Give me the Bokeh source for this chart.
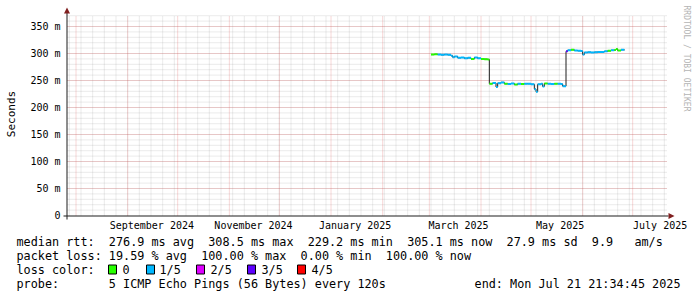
from datetime import datetime, timedelta
import math
import pandas as pd
from bokeh.plotting import figure
from bokeh.models import (Range1d, FixedTicker, DatetimeTickFormatter, Label,
                          PolyAnnotation, ColumnDataSource)
from bokeh.embed import file_html
from bokeh.resources import INLINE

# ---------------- data ----------------
dates = ["2025-03-02", "2025-03-04", "2025-03-06", "2025-03-08", "2025-03-10",
         "2025-03-12", "2025-03-14", "2025-03-15", "2025-03-16", "2025-03-18",
         "2025-03-20", "2025-03-22", "2025-03-24", "2025-03-26", "2025-03-28",
         "2025-03-30", "2025-04-01", "2025-04-03", "2025-04-05", "2025-04-06",
         "2025-04-08", "2025-04-10", "2025-04-11", "2025-04-13", "2025-04-15",
         "2025-04-17", "2025-04-19", "2025-04-21", "2025-04-23", "2025-04-25",
         "2025-04-27", "2025-04-29", "2025-05-01", "2025-05-03", "2025-05-04",
         "2025-05-05", "2025-05-07", "2025-05-08", "2025-05-09", "2025-05-11",
         "2025-05-13", "2025-05-15", "2025-05-17", "2025-05-19", "2025-05-20",
         "2025-05-22", "2025-05-23", "2025-05-25", "2025-05-27", "2025-05-29",
         "2025-05-31", "2025-06-01", "2025-06-02", "2025-06-04", "2025-06-06",
         "2025-06-08", "2025-06-10", "2025-06-12", "2025-06-14", "2025-06-16",
         "2025-06-18", "2025-06-20", "2025-06-21", "2025-06-22", "2025-06-24",
         "2025-06-26"]
median_ms = [298.0, 298.5, 298.0, 297.5, 298.0,
             297.5, 296.0, 293.0, 294.5, 292.0,
             292.5, 291.0, 292.0, 290.0, 292.5,
             291.0, 290.0, 289.5, 289.0, 244.0,
             245.5, 238.0, 245.0, 246.5, 244.0,
             243.5, 244.5, 242.5, 244.0, 243.5,
             244.0, 244.0, 243.0, 234.0, 229.2,
             243.0, 244.0, 239.0, 244.5, 244.0,
             243.5, 244.0, 244.0, 243.5, 239.5,
             304.0, 306.0, 307.0, 305.5, 305.0,
             304.5, 298.0, 302.0, 302.5, 302.0,
             302.5, 303.0, 303.0, 304.0, 305.0,
             306.0, 306.5, 308.5, 305.5, 307.0,
             306.0]
loss_idx = [0, 0, 1, 1, 1,
            1, 1, 1, 1, 1,
            1, 1, 1, 0, 1,
            1, 0, 0, 0, 0,
            1, 1, 1, 1, 0,
            1, 1, 0, 1, 0,
            1, 1, 1, 1, 1,
            1, 1, 1, 0, 1,
            1, 0, 1, 1, 1,
            3, 1, 0, 1, 1,
            1, 1, 1, 1, 1,
            1, 1, 1, 1, 0,
            1, 0, 0, 0, 1,
            1]

loss_labels = ["0", "1/5", "2/5", "3/5", "4/5"]
loss_colors = ["#26ff00", "#00b8ff", "#dd00ff", "#5e00ff", "#ff0000"]

y_ticks = [0, 50, 100, 150, 200, 250, 300, 350]
y_tick_labels = ["0", "50 m", "100 m", "150 m", "200 m", "250 m", "300 m", "350 m"]
y_minor = list(range(10, 371, 10))
x_label_dates = ["2024-09-15", "2024-11-15", "2025-01-15", "2025-03-18",
                 "2025-05-18", "2025-07-17"]

row_rtt = "median rtt:  276.9 ms avg  308.5 ms max  229.2 ms min  305.1 ms now  27.9 ms sd  9.9   am/s"
row_loss = "packet loss: 19.59 % avg  100.00 % max  0.00 % min  100.00 % now"
row_color = "loss color:"
row_probe = "probe:       5 ICMP Echo Pings (56 Bytes) every 120s"
row_end = "end: Mon Jul 21 21:34:45 2025"

# ---------------- geometry ----------------
W, H = 697, 297
FL, FR, FT, FB = 67, 667, 15, 215          # plot area in canvas px
t_start = datetime(2024, 7, 26, 21, 34, 45)
t_end = datetime(2025, 7, 21, 21, 34, 45)
Y_TOP = 370.37
SPP = (t_end - t_start).total_seconds() / (FR - FL)   # seconds per px
YPP = Y_TOP / (FB - FT)                                # ms per px
EPOCH = datetime(1970, 1, 1)


def ms(dt):
    return (dt - EPOCH).total_seconds() * 1000.0


MONO = "DejaVu Sans Mono"

x_lo = t_start - timedelta(seconds=FL * SPP)
x_hi = t_end + timedelta(seconds=(W - FR) * SPP)
y_lo = -(H - FB) * YPP
y_hi = Y_TOP + FT * YPP

p = figure(width=W, height=H, x_axis_type="datetime",
           x_range=Range1d(ms(x_lo), ms(x_hi)), y_range=Range1d(y_lo, y_hi),
           min_border=0, output_backend="svg", toolbar_location=None, title=None)
p.outline_line_color = None
p.background_fill_color = "white"
p.border_fill_color = "white"
p.xgrid.visible = False
p.ygrid.visible = False

# ---------------- grid (drawn inside the plot area only) ----------------
months = [ms(d) for d in pd.date_range("2024-08-01", "2025-07-01", freq="MS").to_pydatetime()]
weeks = [ms(d) for d in pd.date_range("2024-07-28", "2025-07-20", freq="W-SUN").to_pydatetime()]
minor_col = (150, 150, 150)
major_col = (222, 79, 79)
MINOR_A, MAJOR_A = 0.38, 0.45
p.segment(x0=weeks, y0=[0] * len(weeks), x1=weeks, y1=[Y_TOP] * len(weeks),
          line_color=minor_col, line_alpha=MINOR_A, line_width=1, line_dash="1 1")
p.segment(x0=[ms(t_start)] * len(y_minor), y0=y_minor, x1=[ms(t_end)] * len(y_minor),
          y1=y_minor, line_color=minor_col, line_alpha=MINOR_A, line_width=1, line_dash="1 1")
p.segment(x0=months, y0=[0] * len(months), x1=months, y1=[Y_TOP] * len(months),
          line_color=major_col, line_alpha=MAJOR_A, line_width=1, line_dash="1 1")
p.segment(x0=[ms(t_start)] * 7, y0=y_ticks[1:], x1=[ms(t_end)] * 7, y1=y_ticks[1:],
          line_color=major_col, line_alpha=MAJOR_A, line_width=1, line_dash="1 1")

# ---------------- axes (fixed inside the frame) ----------------
xl_ms = [ms(datetime.fromisoformat(d + "T12:00:00")) for d in x_label_dates]
p.xaxis.ticker = FixedTicker(ticks=xl_ms, minor_ticks=[])
fmt = "%B %Y"
p.xaxis.formatter = DatetimeTickFormatter(milliseconds=fmt, seconds=fmt, minsec=fmt,
                                          minutes=fmt, hourmin=fmt, hours=fmt,
                                          days=fmt, months=fmt, years=fmt)
p.xaxis.fixed_location = 0
p.yaxis.ticker = FixedTicker(ticks=y_ticks, minor_ticks=[])
p.yaxis.major_label_overrides = dict(zip(y_ticks, y_tick_labels))
p.yaxis.fixed_location = ms(t_start)

for ax in (p.xaxis, p.yaxis):
    ax.axis_line_color = None
    ax.major_tick_line_color = None
    ax.minor_tick_line_color = None
    ax.major_tick_out = 0
    ax.major_tick_in = 0
    ax.major_label_text_font = MONO
    ax.major_label_text_font_size = "10px"
    ax.major_label_text_color = "black"
p.xaxis.major_label_standoff = 4
p.yaxis.major_label_standoff = 7

# ---------------- series ----------------
x = [ms(datetime.fromisoformat(d)) for d in dates]
p.step(x, median_ms, mode="after", line_color="#1f1f1f", line_width=1)
seg = ColumnDataSource(dict(x0=x[:-1], x1=x[1:], y=median_ms[:-1],
                            c=[loss_colors[i] for i in loss_idx[:-1]]))
p.segment(x0="x0", y0="y", x1="x1", y1="y", line_color="c", line_width=2,
          source=seg)


# ---------------- annotations (canvas px, y from top) ----------------
def poly(xs, ys, fill, line=None, lw=1):
    p.add_layout(PolyAnnotation(xs=xs, ys=ys, xs_units="canvas", ys_units="canvas",
                                fill_color=fill, fill_alpha=1,
                                line_color=line if line else fill,
                                line_alpha=1 if line else 0, line_width=lw))


# axis lines and arrows
poly([63, 668, 668, 63], [215, 215, 216, 216], "#1f1f1f")
poly([66, 67, 67, 66], [12, 12, 219, 219], "#1f1f1f")
poly([668, 674, 668], [212.5, 215.5, 218.5], "#801f1f")
poly([63.5, 66.5, 69.5], [13, 7, 13], "#801f1f")


def text(cx, cy, s, size="11.8px", align="left", angle=0, color="black"):
    p.add_layout(Label(x=cx, y=cy, x_units="canvas", y_units="canvas",
                       text=s.replace(" ", "\u00a0"), text_font=MONO,
                       text_font_size=size, text_align=align,
                       text_baseline="middle", angle=angle, text_color=color))


text(16, 241, row_rtt)
text(16, 255, row_loss)
text(16, 269, row_color)
text(16, 283, row_probe)
text(680, 283, row_end, align="right")

box_x = [108, 146, 196, 247, 297]
lab_x = [122, 159, 210, 261, 311]
for bx, lx, lab, col in zip(box_x, lab_x, loss_labels, loss_colors):
    poly([bx, bx + 8, bx + 8, bx], [264.5, 264.5, 273.5, 273.5], col, line="black")
    text(lx, 269, lab)

text(11, 113.5, "Seconds", size="11px", align="center", angle=math.pi / 2)
text(686, 5, "RRDTOOL / TOBI OETIKER", size="8px", align="left", angle=-math.pi / 2,
     color="#b4b4b4")

open("out.html", "w").write(file_html(p, INLINE))
